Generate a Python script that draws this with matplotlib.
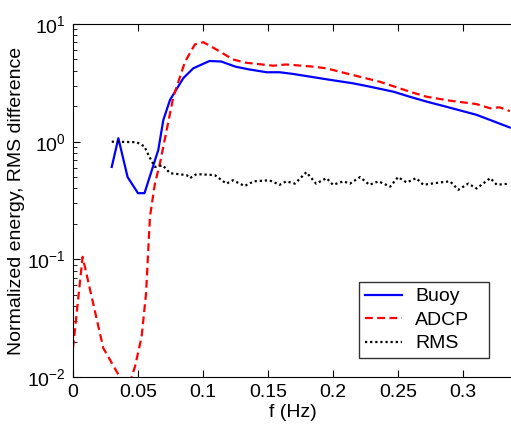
import matplotlib
matplotlib.use("Agg")
import matplotlib.pyplot as plt
from matplotlib.ticker import LogLocator, LogFormatterMathtext, NullFormatter

plt.rcParams["font.family"] = ["Liberation Sans", "DejaVu Sans"]
plt.rcParams["mathtext.fontset"] = "custom"
plt.rcParams["mathtext.rm"] = "Liberation Sans"
plt.rcParams["mathtext.it"] = "Liberation Sans:italic"

# Buoy spectrum (solid blue)
buoy_f = [0.0298, 0.0349, 0.042, 0.050, 0.055, 0.0656, 0.0695, 0.0746, 0.0848, 0.0925,
          0.105, 0.114, 0.125, 0.135, 0.149, 0.159, 0.1695, 0.195, 0.2156, 0.226,
          0.2464, 0.259, 0.272, 0.285, 0.3105, 0.336]
buoy_e = [0.61, 1.07, 0.50, 0.365, 0.365, 0.85, 1.53, 2.26, 3.46, 4.2,
          4.85, 4.8, 4.34, 4.12, 3.89, 3.89, 3.76, 3.39, 3.13, 2.97,
          2.66, 2.41, 2.19, 2.01, 1.69, 1.32]

# ADCP spectrum (dashed red)
adcp_f = [0.0, 0.0074, 0.0233, 0.036, 0.041, 0.0445, 0.0477, 0.0528, 0.0562, 0.0592,
          0.063, 0.0669, 0.0772, 0.0862, 0.0938, 0.1003, 0.110, 0.123, 0.133, 0.154,
          0.164, 0.185, 0.195, 0.21, 0.236, 0.246, 0.259, 0.272, 0.29, 0.31,
          0.321, 0.328, 0.336]
adcp_e = [0.0176, 0.105, 0.0176, 0.0100, 0.0085, 0.0095, 0.0123, 0.022, 0.0515, 0.23,
          0.44, 0.655, 2.41, 4.78, 6.72, 7.0, 6.1, 5.0, 4.69, 4.42,
          4.53, 4.34, 4.2, 3.81, 3.23, 2.97, 2.66, 2.41, 2.23, 2.09,
          1.92, 1.96, 1.82]

# RMS difference (dotted black)
rms_f = [0.0298, 0.049, 0.055, 0.058, 0.063, 0.069, 0.0746, 0.0874, 0.090, 0.095,
         0.109, 0.118, 0.123, 0.132, 0.139, 0.151, 0.159, 0.164, 0.1707, 0.1795,
         0.187, 0.195, 0.200, 0.208, 0.213, 0.2208, 0.228, 0.235, 0.244, 0.250,
         0.2567, 0.264, 0.2695, 0.282, 0.290, 0.2964, 0.304, 0.3105, 0.321, 0.326,
         0.336]
rms_e = [1.0, 0.99, 0.91, 0.77, 0.61, 0.63, 0.54, 0.52, 0.49, 0.53,
         0.52, 0.44, 0.47, 0.42, 0.46, 0.47, 0.43, 0.46, 0.44, 0.55,
         0.44, 0.49, 0.43, 0.46, 0.44, 0.50, 0.43, 0.46, 0.415, 0.50,
         0.45, 0.49, 0.43, 0.45, 0.46, 0.39, 0.44, 0.40, 0.49, 0.43,
         0.44]

xticks = [0, 0.05, 0.1, 0.15, 0.2, 0.25, 0.3]
xtick_labels = ["0", "0.05", "0.1", "0.15", "0.2", "0.25", "0.3"]

FS = 14

fig = plt.figure(figsize=(5.11, 4.25), dpi=100)
ax = fig.add_axes([73 / 511, 48 / 425, 440 / 511, 353 / 425])

ax.plot(buoy_f, buoy_e, color="#0000ff", lw=1.6, ls="-", label="Buoy")
ax.plot(adcp_f, adcp_e, color="#ff0000", lw=1.6, ls=(0, (3.5, 2)), label="ADCP")
ax.plot(rms_f, rms_e, color="black", lw=1.6, ls=(0, (1, 1.3)), label="RMS")

ax.set_yscale("log")
ax.set_ylim(1e-2, 1e1)
ax.set_xlim(0, 440 / 1300)
ax.set_xticks(xticks)
ax.set_xticklabels(xtick_labels)
ax.yaxis.set_major_locator(LogLocator(base=10, numticks=10))
ax.yaxis.set_major_formatter(LogFormatterMathtext())
ax.yaxis.set_minor_locator(LogLocator(base=10, subs=range(2, 10), numticks=10))
ax.yaxis.set_minor_formatter(NullFormatter())

ax.tick_params(which="both", direction="in", top=True, right=False,
               labelsize=FS, pad=5)
ax.tick_params(which="major", length=5)
ax.tick_params(which="minor", length=3)
ax.spines["right"].set_visible(False)

ax.set_xlabel("f (Hz)", fontsize=FS, labelpad=2)
ax.set_ylabel("Normalized energy, RMS difference", fontsize=FS, labelpad=2)

leg = ax.legend(loc="upper left",
                bbox_to_anchor=(359 / 511, 68 / 425, 130 / 511, 75 / 425),
                bbox_transform=fig.transFigure, mode="expand",
                fontsize=FS, frameon=True, fancybox=False,
                edgecolor="black", handlelength=1.9, borderpad=0.3, labelspacing=0.3,
                handletextpad=0.7, borderaxespad=0)
leg.get_frame().set_linewidth(1.0)

fig.savefig("out.png", dpi=100)
